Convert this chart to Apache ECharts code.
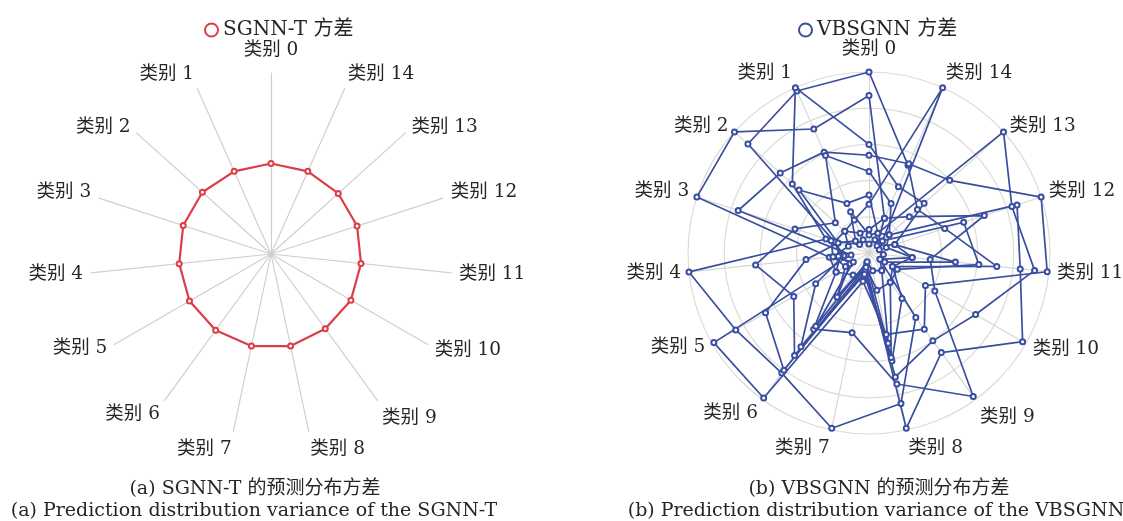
<!DOCTYPE html>
<html>
<head>
<meta charset="utf-8">
<script src="https://cdn.jsdelivr.net/npm/echarts@6/dist/echarts.min.js"></script>
<style>
  html, body { margin: 0; padding: 0; background: #fff; }
  #chart { width: 1123px; height: 521px; }
</style>
</head>
<body>
<div id="chart"></div>
<script>
// Class labels around both radars
const categories = ['类别 0', '类别 1', '类别 2', '类别 3', '类别 4', '类别 5', '类别 6', '类别 7',
  '类别 8', '类别 9', '类别 10', '类别 11', '类别 12', '类别 13', '类别 14'];

// SGNN-T predictive variance per class (normalised)
const sgnnVariance = [0.50, 0.50, 0.51, 0.51, 0.51, 0.52, 0.52, 0.52, 0.52, 0.51, 0.51, 0.50, 0.50, 0.50, 0.50];

// VBSGNN predictive variance per class, one array per sampled run (normalised)
const vbRun1 = [1.00, 0.98, 0.90, 0.20, 0.14, 0.34, 0.64, 0.12, 0.61, 0.31, 0.15, 0.71, 0.44, 0.36, 0.53];
const vbRun2 = [0.87, 0.75, 1.00, 1.00, 0.22, 0.21, 0.52, 0.45, 0.74, 0.98, 0.42, 0.34, 0.67, 0.30, 0.21];
const vbRun3 = [0.60, 1.00, 0.57, 0.25, 1.00, 0.85, 0.82, 0.99, 0.85, 0.44, 0.07, 0.24, 0.15, 0.41, 0.40];
const vbRun4 = [0.54, 0.61, 0.66, 0.76, 0.10, 0.99, 0.99, 0.16, 0.46, 0.52, 0.36, 0.99, 1.00, 0.60, 0.54];
const vbRun5 = [0.45, 0.59, 0.25, 0.43, 0.63, 0.48, 0.70, 0.08, 0.99, 0.68, 0.98, 0.84, 0.86, 0.15, 0.30];
const vbRun6 = [0.32, 0.30, 0.52, 0.18, 0.35, 0.66, 0.80, 0.10, 0.70, 0.60, 0.68, 0.92, 0.83, 1.00, 0.12];
const vbRun7 = [0.27, 0.20, 0.18, 0.12, 0.20, 0.15, 0.30, 0.06, 0.59, 0.20, 0.18, 0.61, 0.55, 0.10, 1.00];
const vbRun8 = [0.13, 0.12, 0.18, 0.20, 0.16, 0.21, 0.15, 0.12, 0.51, 0.12, 0.10, 0.48, 0.15, 0.06, 0.21];
const vbRun9 = [0.10, 0.25, 0.10, 0.18, 0.17, 0.12, 0.30, 0.08, 0.21, 0.20, 0.15, 0.24, 0.10, 0.15, 0.12];
const vbRun10 = [0.05, 0.08, 0.07, 0.22, 0.20, 0.10, 0.50, 0.05, 0.10, 0.12, 0.07, 0.08, 0.06, 0.10, 0.08];
const vbRuns = [vbRun1, vbRun2, vbRun3, vbRun4, vbRun5, vbRun6, vbRun7, vbRun8, vbRun9, vbRun10];

const SERIF = '"DejaVu Serif", "Noto Sans CJK SC", serif';
const RED = '#dc3d47';
const BLUE = '#3a4ea0';
const TEXT = '#262626';
const indicators = categories.map(name => ({ name: name, max: 1 }));

// Axis names are vertically centred on their anchor; asymmetric padding
// lifts the upper names and drops the lower ones for extra clearance.
const padAbove = [0, 0, 0, 0, 0, 0, 14, 20, 20, 22, 4, 0, 0, 0, 0];
const padBelow = [6, 14, 0, 6, 0, 0, 0, 0, 0, 0, 0, 0, 6, 0, 14];
const nameRich = {};
categories.forEach((c, i) => {
  nameRich['n' + i] = { padding: [padAbove[i], 0, padBelow[i], 0], fontSize: 18.5, fontFamily: SERIF, color: TEXT };
});
const axisNameStyle = {
  color: TEXT, fontSize: 18.5, fontFamily: SERIF,
  formatter: name => `{n${categories.indexOf(name)}|${name}}`,
  rich: nameRich
};
const captionStyle = { fontFamily: SERIF, fontSize: 19, fontWeight: 'normal', color: TEXT };
const legendText = { fontFamily: SERIF, fontSize: 20, color: TEXT };

const chart = echarts.init(document.getElementById('chart'), null, { renderer: 'canvas' });
chart.setOption({
  animation: false,
  backgroundColor: '#fff',
  title: [
    { text: '(a) SGNN-T 的预测分布方差', left: 250, top: 475, textAlign: 'center', textStyle: captionStyle },
    { text: '(a) Prediction distribution variance of the SGNN-T', left: 249, top: 497, textAlign: 'center', textStyle: captionStyle },
    { text: '(b) VBSGNN 的预测分布方差', left: 874, top: 475, textAlign: 'center', textStyle: captionStyle },
    { text: '(b) Prediction distribution variance of the VBSGNN', left: 871, top: 497, textAlign: 'center', textStyle: captionStyle }
  ],
  legend: [
    { data: [{ name: 'SGNN-T 方差', icon: 'emptyCircle' }], left: 199, top: 15,
      itemWidth: 13, itemHeight: 13, itemGap: 8, textStyle: legendText },
    { data: [{ name: 'VBSGNN 方差', icon: 'emptyCircle' }], left: 793, top: 15,
      itemWidth: 13, itemHeight: 13, itemGap: 8, textStyle: legendText }
  ],
  radar: [
    {
      center: [271, 254], radius: 181, startAngle: 90,
      indicator: indicators, nameGap: 8, axisName: axisNameStyle,
      splitNumber: 5,
      splitLine: { show: false },
      splitArea: { show: false },
      axisLine: { lineStyle: { color: '#cfcfcf', width: 1.2 } }
    },
    {
      center: [869, 253], radius: 181, startAngle: 90, shape: 'circle',
      indicator: indicators, nameGap: 8, axisName: axisNameStyle,
      splitNumber: 5,
      splitLine: { lineStyle: { color: '#dcdcd4', width: 1.2 } },
      splitArea: { show: false },
      axisLine: { lineStyle: { color: '#d4d4d4', width: 1.1 } }
    }
  ],
  series: [
    {
      type: 'radar', radarIndex: 0,
      symbol: 'emptyCircle', symbolSize: 5,
      lineStyle: { color: RED, width: 2.2 },
      itemStyle: { color: RED, borderColor: RED, borderWidth: 1 },
      data: [{ name: 'SGNN-T 方差', value: sgnnVariance }]
    },
    {
      type: 'radar', radarIndex: 1,
      symbol: 'emptyCircle', symbolSize: 5,
      lineStyle: { color: BLUE, width: 1.7 },
      itemStyle: { color: BLUE, borderColor: BLUE, borderWidth: 1 },
      data: vbRuns.map(run => ({ name: 'VBSGNN 方差', value: run }))
    }
  ]
});
</script>
</body>
</html>
